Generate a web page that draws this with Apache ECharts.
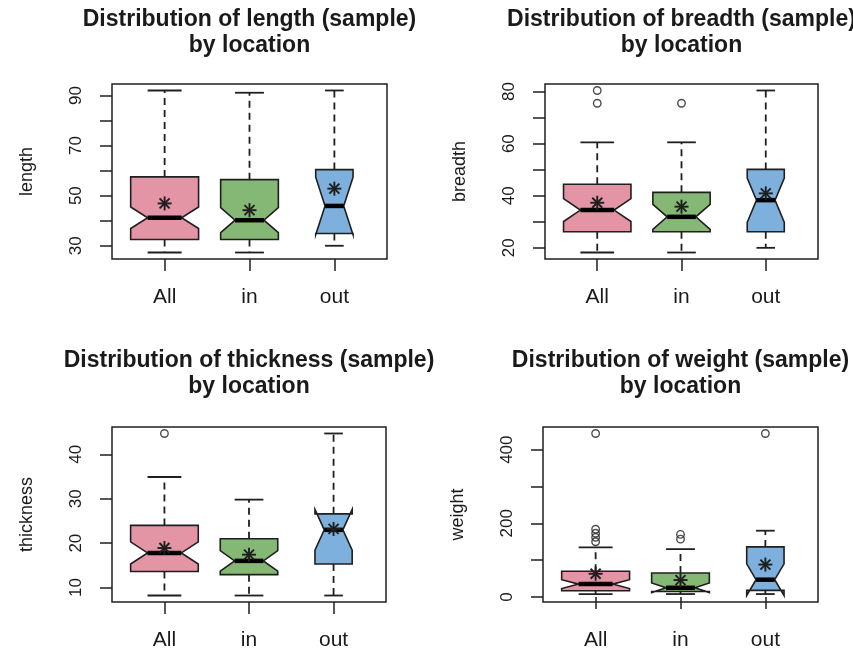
<!DOCTYPE html>
<html>
<head>
<meta charset="utf-8">
<title>Distribution by location</title>
<script src="https://cdn.jsdelivr.net/npm/echarts@6/dist/echarts.min.js"></script>
<style>
  html, body { margin: 0; padding: 0; background: #ffffff; }
  #chart { width: 853px; height: 654px; }
</style>
</head>
<body>
<div id="chart"></div>
<script>
// Groups along the x axis
const categories = ['All', 'in', 'out'];

// Box statistics per group:
// [whisker low, Q1, notch low, median, notch high, Q3, whisker high]
const lengthBoxes = [
  [27.3, 32.5, 36.9, 41.2, 45.5, 57.5, 92.0],
  [27.3, 32.5, 35.2, 40.2, 45.2, 56.4, 91.1],
  [30.0, 34.9, 34.4, 45.9, 57.4, 60.4, 92.0]
];
const lengthMeans = [46.9, 44.2, 52.8];
const lengthOutliers = [];

const breadthBoxes = [
  [18.2, 26.2, 30.1, 34.5, 38.9, 44.4, 60.5],
  [18.2, 26.2, 27.1, 31.9, 36.7, 41.3, 60.5],
  [20.0, 26.2, 29.8, 38.3, 46.8, 50.1, 80.4]
];
const breadthMeans = [37.3, 35.8, 40.9];
const breadthOutliers = [['All', 75.5], ['All', 80.4], ['in', 75.5]];

const thicknessBoxes = [
  [8.2, 13.6, 15.3, 17.8, 20.3, 24.0, 34.9],
  [8.2, 12.9, 13.7, 16.0, 18.3, 21.0, 29.8],
  [8.2, 15.3, 18.4, 23.0, 27.6, 26.6, 44.7]
];
const thicknessMeans = [18.9, 17.4, 23.2];
const thicknessOutliers = [['All', 44.7]];

const weightBoxes = [
  [8, 17, 23, 35, 47, 70, 135],
  [8, 15, 12, 25, 38, 65, 130],
  [8, 18, 4, 47, 90, 136, 180]
];
const weightMeans = [63, 46, 88];
const weightOutliers = [
  ['All', 444], ['All', 184], ['All', 173], ['All', 162], ['All', 150],
  ['in', 170], ['in', 157],
  ['out', 444]
];

// Axis ticks and labelled ticks
const lengthTicks = [30, 40, 50, 60, 70, 80, 90];
const lengthTickLabels = [30, 50, 70, 90];
const breadthTicks = [20, 30, 40, 50, 60, 70, 80];
const breadthTickLabels = [20, 40, 60, 80];
const thicknessTicks = [10, 20, 30, 40];
const thicknessTickLabels = [10, 20, 30, 40];
const weightTicks = [0, 100, 200, 300, 400];
const weightTickLabels = [0, 200, 400];

// ---- styling ----
const INK = '#1f1f1f';
const FILLS = ['#E495A5', '#86B875', '#7DB0DD'];
const BOX_WIDTH = [0.80, 0.68, 0.44];   // box width per group, in category units
const FONT = 'Liberation Sans, Arial, Helvetica, sans-serif';

const panels = [
  { name: 'length', boxes: lengthBoxes, means: lengthMeans, outliers: lengthOutliers,
    ticks: lengthTicks, tickLabels: lengthTickLabels,
    grid: { left: 112, top: 84, width: 275, height: 175 }, titleTop: 7 },
  { name: 'breadth', boxes: breadthBoxes, means: breadthMeans, outliers: breadthOutliers,
    ticks: breadthTicks, tickLabels: breadthTickLabels,
    grid: { left: 545, top: 84, width: 273, height: 175 }, titleTop: 7 },
  { name: 'thickness', boxes: thicknessBoxes, means: thicknessMeans, outliers: thicknessOutliers,
    ticks: thicknessTicks, tickLabels: thicknessTickLabels,
    grid: { left: 112, top: 427, width: 274, height: 175 }, titleTop: 348 },
  { name: 'weight', boxes: weightBoxes, means: weightMeans, outliers: weightOutliers,
    ticks: weightTicks, tickLabels: weightTickLabels,
    grid: { left: 543, top: 427, width: 275, height: 175 }, titleTop: 348 }
];

// Value range padded by 4% on each side
function paddedRange(boxes, outliers) {
  const vals = boxes.flat().concat(outliers.map(o => o[1]));
  const lo = Math.min(...vals), hi = Math.max(...vals);
  const pad = (hi - lo) * 0.04;
  return [lo - pad, hi + pad];
}
const xPad = 3 * 0.04;

// Notched box with dashed whiskers, staples, median bar and mean asterisk
function renderBox(params, api) {
  const pos = api.value(0);
  const lo = api.value(1), q1 = api.value(2), nlo = api.value(3), med = api.value(4);
  const nhi = api.value(5), q3 = api.value(6), hi = api.value(7), mean = api.value(8);
  const cx = api.coord([pos, med])[0];
  const py = v => api.coord([pos, v])[1];
  const half = api.size([1, 0])[0] * BOX_WIDTH[pos - 1] / 2;
  const L = cx - half, R = cx + half, iL = cx - half / 2, iR = cx + half / 2;
  const dash = { stroke: INK, lineWidth: 1.8, lineDash: [7, 5] };
  const solid = { stroke: INK, lineWidth: 1.8 };
  const my = py(mean), mx = cx, a = 7, d = 5;
  const star = { stroke: INK, lineWidth: 1.9 };
  return {
    type: 'group',
    children: [
      { type: 'line', shape: { x1: cx, y1: py(q3), x2: cx, y2: py(hi) }, style: dash },
      { type: 'line', shape: { x1: cx, y1: py(q1), x2: cx, y2: py(lo) }, style: dash },
      { type: 'line', shape: { x1: cx - half / 2, y1: py(hi), x2: cx + half / 2, y2: py(hi) }, style: solid },
      { type: 'line', shape: { x1: cx - half / 2, y1: py(lo), x2: cx + half / 2, y2: py(lo) }, style: solid },
      { type: 'polygon',
        shape: { points: [
          [L, py(q1)], [L, py(nlo)], [iL, py(med)], [L, py(nhi)], [L, py(q3)],
          [R, py(q3)], [R, py(nhi)], [iR, py(med)], [R, py(nlo)], [R, py(q1)]
        ] },
        style: { fill: FILLS[pos - 1], stroke: INK, lineWidth: 1.6 } },
      { type: 'line', shape: { x1: iL, y1: py(med), x2: iR, y2: py(med) },
        style: { stroke: '#000', lineWidth: 4.5 } },
      { type: 'line', shape: { x1: mx - a, y1: my, x2: mx + a, y2: my }, style: star },
      { type: 'line', shape: { x1: mx, y1: my - a, x2: mx, y2: my + a }, style: star },
      { type: 'line', shape: { x1: mx - d, y1: my - d, x2: mx + d, y2: my + d }, style: star },
      { type: 'line', shape: { x1: mx - d, y1: my + d, x2: mx + d, y2: my - d }, style: star }
    ]
  };
}

const option = {
  backgroundColor: '#ffffff',
  animation: false,
  title: [], grid: [], xAxis: [], yAxis: [], series: []
};

panels.forEach((p, i) => {
  const [ymin, ymax] = paddedRange(p.boxes, p.outliers);
  option.title.push({
    text: 'Distribution of ' + p.name + ' (sample)\nby location',
    left: p.grid.left + p.grid.width / 2,
    top: p.titleTop,
    padding: 0,
    textAlign: 'center',
    textStyle: { fontFamily: FONT, fontWeight: 'bold', fontSize: 23, lineHeight: 26, color: '#1a1a1a' }
  });
  option.grid.push(Object.assign({
    show: true, borderColor: INK, borderWidth: 1.5, backgroundColor: 'transparent', containLabel: false
  }, p.grid));
  option.xAxis.push({
    type: 'value', gridIndex: i,
    min: 0.5 - xPad, max: categories.length + 0.5 + xPad,
    axisLine: { show: false },
    splitLine: { show: false },
    axisTick: { show: true, inside: false, length: 12, customValues: [1, 2, 3],
                lineStyle: { color: INK, width: 1.5 } },
    axisLabel: { show: true, customValues: [1, 2, 3], margin: 28,
                 formatter: v => categories[Math.round(v) - 1] || '',
                 fontFamily: FONT, fontSize: 21, color: '#1a1a1a' }
  });
  option.yAxis.push({
    type: 'value', gridIndex: i,
    min: ymin, max: ymax,
    name: p.name, nameLocation: 'middle', nameGap: 76,
    nameTextStyle: { fontFamily: FONT, fontSize: 18, color: '#1a1a1a' },
    axisLine: { show: false },
    splitLine: { show: false },
    axisTick: { show: true, inside: false, length: 12, customValues: p.ticks,
                lineStyle: { color: INK, width: 1.5 } },
    axisLabel: { show: true, customValues: p.tickLabels, rotate: 90, margin: 27,
                 fontFamily: FONT, fontSize: 17, color: '#1a1a1a' }
  });
  option.series.push({
    type: 'custom', xAxisIndex: i, yAxisIndex: i,
    renderItem: renderBox,
    encode: { x: 0, y: [1, 2, 3, 4, 5, 6, 7, 8] },
    data: p.boxes.map((b, k) => [k + 1].concat(b, [p.means[k]])),
    z: 2
  });
  option.series.push({
    type: 'scatter', xAxisIndex: i, yAxisIndex: i,
    symbol: 'circle', symbolSize: 7.5,
    itemStyle: { color: 'rgba(255,255,255,0)', borderColor: INK, borderWidth: 1.4 },
    data: p.outliers.map(o => [categories.indexOf(o[0]) + 1, o[1]]),
    z: 3
  });
});

const chart = echarts.init(document.getElementById('chart'), null, { renderer: 'canvas' });
chart.setOption(option);
</script>
</body>
</html>
